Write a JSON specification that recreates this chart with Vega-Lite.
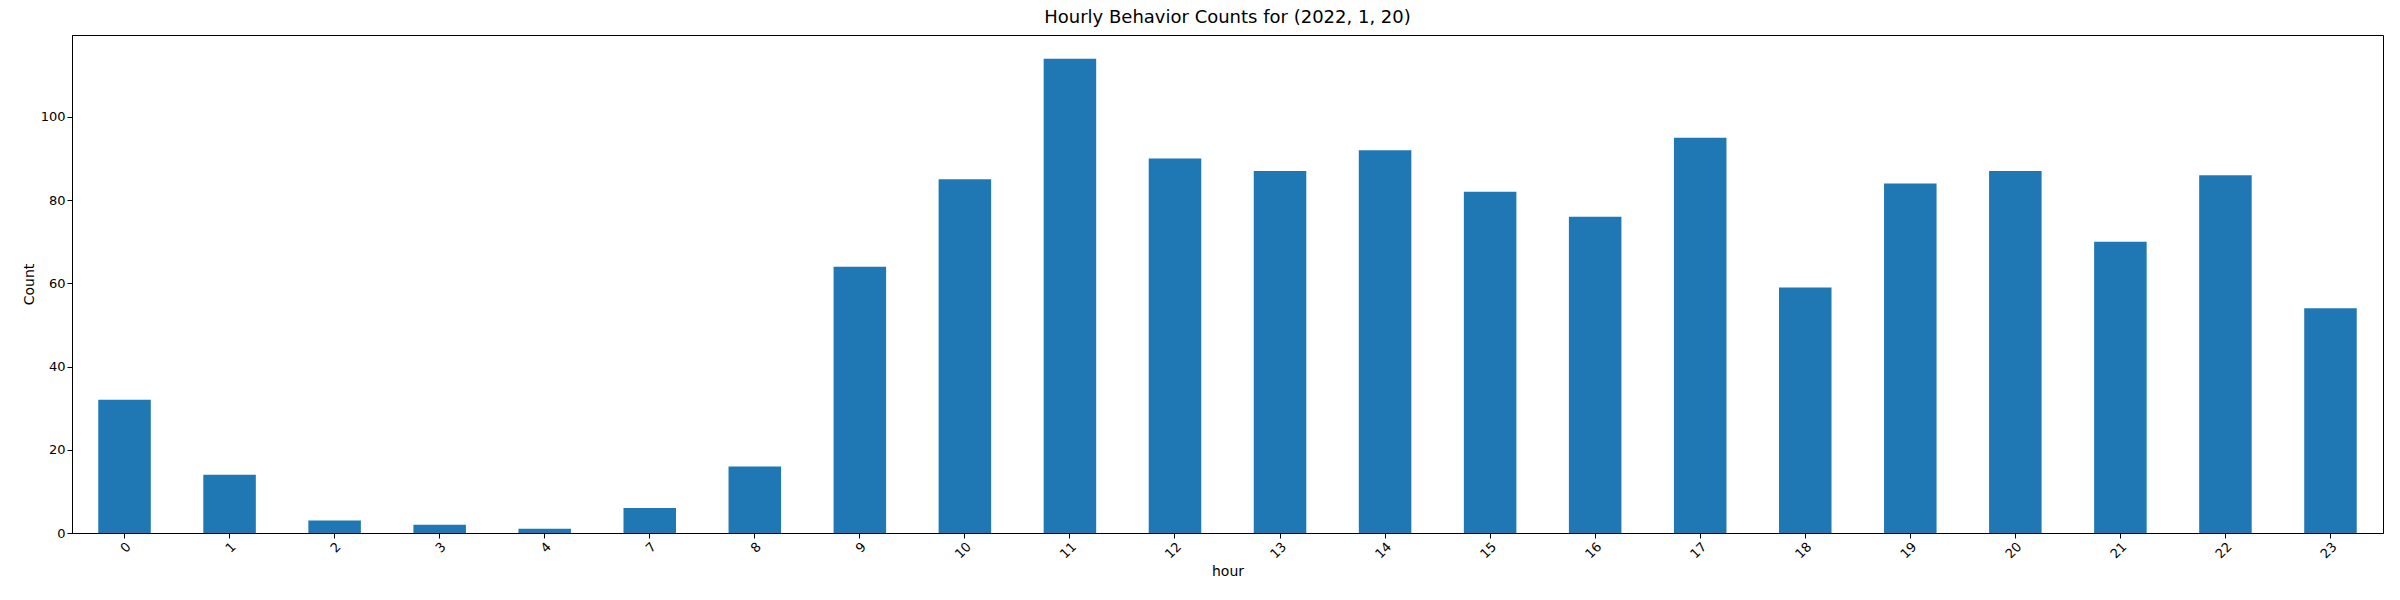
{
  "$schema": "https://vega.github.io/schema/vega-lite/v6.json",
  "autosize": "none",
  "width": 2311,
  "height": 498,
  "padding": {"left": 72, "top": 35, "right": 17, "bottom": 67},
  "background": "white",
  "title": {"text": "Hourly Behavior Counts for (2022, 1, 20)", "font": "DejaVu Sans", "fontSize": 18, "fontWeight": "normal", "offset": 8},
  "data": {
    "values": [
      {"hour": "0", "count": 32}, {"hour": "1", "count": 14}, {"hour": "2", "count": 3},
      {"hour": "3", "count": 2}, {"hour": "4", "count": 1}, {"hour": "7", "count": 6},
      {"hour": "8", "count": 16}, {"hour": "9", "count": 64}, {"hour": "10", "count": 85},
      {"hour": "11", "count": 114}, {"hour": "12", "count": 90}, {"hour": "13", "count": 87},
      {"hour": "14", "count": 92}, {"hour": "15", "count": 82}, {"hour": "16", "count": 76},
      {"hour": "17", "count": 95}, {"hour": "18", "count": 59}, {"hour": "19", "count": 84},
      {"hour": "20", "count": 87}, {"hour": "21", "count": 70}, {"hour": "22", "count": 86},
      {"hour": "23", "count": 54}
    ]
  },
  "mark": {"type": "bar", "color": "#1f77b4"},
  "encoding": {
    "x": {
      "field": "hour", "type": "ordinal", "sort": null,
      "scale": {"paddingInner": 0.5, "paddingOuter": 0.25},
      "axis": {"labelAngle": -45, "title": "hour", "labelFont": "DejaVu Sans", "titleFont": "DejaVu Sans", "labelFontSize": 13, "titleFontSize": 14, "titleFontWeight": "normal", "domainColor": "black", "tickColor": "black", "labelColor": "black"}
    },
    "y": {
      "field": "count", "type": "quantitative",
      "scale": {"domain": [0, 119.7], "nice": false},
      "axis": {"title": "Count", "values": [0, 20, 40, 60, 80, 100], "grid": false, "labelFont": "DejaVu Sans", "titleFont": "DejaVu Sans", "labelFontSize": 13, "titleFontSize": 14, "titleFontWeight": "normal", "domainColor": "black", "tickColor": "black", "labelColor": "black"}
    }
  },
  "config": {"view": {"stroke": "black", "strokeWidth": 1}}
}
